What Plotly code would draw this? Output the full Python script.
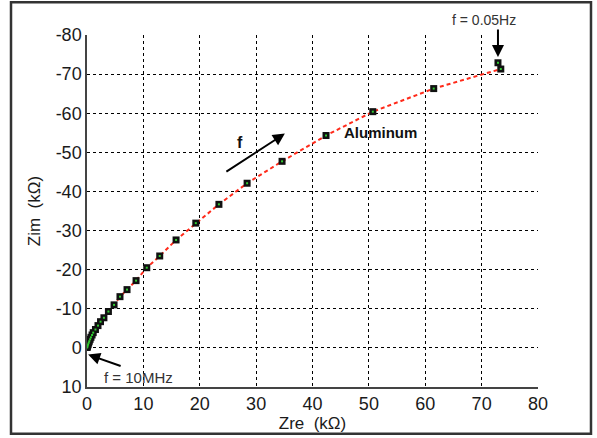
import plotly.graph_objects as go

# Data (Zre, Zim in kOhm)
zre = [0.02, 0.06, 0.12, 0.2, 0.3, 0.4, 0.55, 0.7, 0.9, 1.1, 1.5, 1.95, 2.4, 3.0, 3.8, 4.8,
       5.85, 7.1, 8.7, 10.6, 12.9, 15.8, 19.3, 23.4, 28.4, 34.6, 42.4, 50.7, 61.5, 73.4, 72.9]
zim = [-0.1, -0.3, -0.6, -0.9, -1.3, -1.7, -2.2, -2.7, -3.3, -3.9, -4.7, -5.7, -6.7, -7.7, -9.3, -11.0,
       -13.1, -14.9, -17.2, -20.5, -23.5, -27.6, -31.9, -36.7, -42.1, -47.7, -54.3, -60.4, -66.3, -71.3, -72.9]
x_ticks = [0, 10, 20, 30, 40, 50, 60, 70, 80]
y_ticks = [-80, -70, -60, -50, -40, -30, -20, -10, 0, 10]
y_ticktext = ["-80", "-70", "-60", "-50", "-40", "-30", "-20", "-10", "0", "10"]

FONT = "Liberation Sans, Arial, Helvetica, sans-serif"
TXT = "#1a1a1a"

fig = go.Figure()
fig.add_trace(go.Scatter(x=zre, y=zim, mode="lines",
                         line=dict(color="#ff2a1a", width=2, dash="4px,3px"),
                         hoverinfo="skip", showlegend=False))
fig.add_trace(go.Scatter(x=zre, y=zim, mode="markers",
                         marker=dict(symbol="square", size=7, color="#111111",
                                     line=dict(width=0)),
                         showlegend=False))
fig.add_trace(go.Scatter(x=zre, y=zim, mode="markers",
                         marker=dict(symbol="square", size=2, color="#33cc33",
                                     line=dict(width=0)),
                         hoverinfo="skip", showlegend=False))

grid = dict(showgrid=True, gridcolor="black", gridwidth=1, griddash="3px,3px",
            zeroline=False, ticks="", showline=True, linecolor="#444444", linewidth=1.5,
            mirror=False, tickfont=dict(family=FONT, size=18, color=TXT))

fig.update_xaxes(range=[0, 80], tickvals=x_ticks, **grid,
                 title=dict(text="Zre  (kΩ)", font=dict(family=FONT, size=17, color=TXT),
                            standoff=0))
fig.update_yaxes(range=[10, -80], tickvals=y_ticks, ticktext=y_ticktext, **grid,
                 title=dict(text="Zim  (kΩ)", font=dict(family=FONT, size=17, color=TXT),
                            standoff=11))

annotations = [
    dict(x=72.9, y=-74.4, ax=0, ay=-29, xref="x", yref="y", text="", showarrow=True,
         arrowhead=2, arrowsize=1.2, arrowwidth=2, arrowcolor="black"),
    dict(x=0.880, y=1.042, xref="paper", yref="paper", xanchor="center", yanchor="middle",
         text="f = 0.05Hz", showarrow=False,
         font=dict(family=FONT, size=14, color="#333333")),
    dict(x=45.3, y=-55.0, xref="x", yref="y", text="<b>Aluminum</b>", showarrow=False,
         xanchor="left", font=dict(family=FONT, size=15, color="#111111")),
    dict(x=27.1, y=-52.5, xref="x", yref="y", text="<b>f</b>", showarrow=False,
         font=dict(family=FONT, size=16, color="#111111")),
    dict(x=35.1, y=-54.8, ax=-60, ay=39, xref="x", yref="y", text="", showarrow=True,
         arrowhead=2, arrowsize=1.2, arrowwidth=2, arrowcolor="black"),
    dict(x=0.2, y=1.7, ax=34, ay=12, xref="x", yref="y", text="", showarrow=True,
         arrowhead=2, arrowsize=1.2, arrowwidth=2, arrowcolor="black"),
    dict(x=9.2, y=7.5, xref="x", yref="y", text="f = 10MHz", showarrow=False,
         font=dict(family=FONT, size=15, color="#333333")),
]

fig.update_layout(
    width=597, height=438,
    margin=dict(l=87, r=59, t=35, b=49),
    paper_bgcolor="white", plot_bgcolor="white",
    font=dict(family=FONT),
    annotations=annotations,
    shapes=[dict(type="rect", xref="paper", yref="paper",
                 x0=-0.1685, x1=1.1175, y0=-0.1328, y1=1.093,
                 line=dict(color="#333333", width=2.5), layer="above")],
)

fig.write_html("out.html")
